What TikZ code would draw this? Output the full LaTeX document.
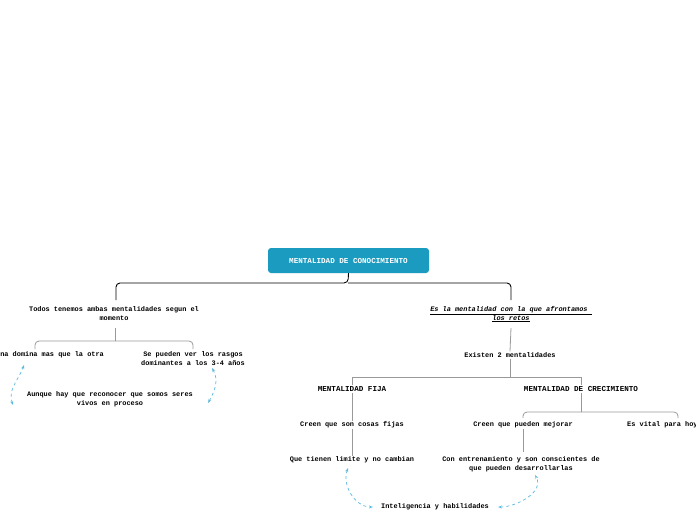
\documentclass[tikz,border=0pt]{standalone}
\usepackage{fontspec}
\setmonofont{Liberation Mono}
\usetikzlibrary{arrows.meta}
\definecolor{rootc}{HTML}{1A9BBF}
\definecolor{dashc}{HTML}{5BB8DE}
\tikzset{
 txt/.style={font=\ttfamily\bfseries\fontsize{6.9}{9}\selectfont,align=center,inner sep=1pt},
 big/.style={font=\ttfamily\bfseries\fontsize{7.6}{9}\selectfont,inner sep=1pt},
 blk/.style={draw=black,line width=0.9pt,rounded corners=4pt},
 gry/.style={draw=gray!80,line width=0.8pt,rounded corners=4pt},
 rel/.style={draw=dashc,dashed,line width=0.7pt,{Stealth[open,length=4pt]}-{Stealth[open,length=4pt]}}
}
\begin{document}
\begin{tikzpicture}[x=1pt,y=-1pt]
\useasboundingbox (0,0) rectangle (696,520);
\clip (0,0) rectangle (696,520);
\node[fill=rootc,rounded corners=3pt,minimum width=161pt,minimum height=25pt,text=white,font=\ttfamily\bfseries\fontsize{7.6}{9}\selectfont] (root) at (348.5,260.5) {MENTALIDAD DE CONOCIMIENTO};
\node[txt] (a) at (114,314) {Todos tenemos ambas mentalidades segun el\\momento};
\node[txt] (b) at (511,314) {\itshape\underline{Es la mentalidad con la que afrontamos\ }\\\itshape\underline{los retos}};
\draw[blk] (root.south) -- (348,283) -| (116,300);
\draw[blk] (348,283) -| (511,300);
\node[txt] (a1) at (50,355) {Una domina mas que la otra};
\node[txt] (a2) at (193,359) {Se pueden ver los rasgos\\dominantes a los 3-4 años};
\node[txt] (a3) at (110,399) {Aunque hay que reconocer que somos seres\\vivos en proceso};
\draw[gry] (115,328) -- (115,341);
\draw[gry] (115,341) -| (35,349);
\draw[gry] (115,341) -| (193,349);
\draw[rel] (13,405) to[out=110,in=-110] (24,365);
\draw[rel] (208,403) to[out=60,in=-60] (212,368);
\node[txt] (e) at (510,355) {Existen 2 mentalidades};
\draw[gry] (511,328) -- (e.north);
\node[big] (f) at (352,389) {MENTALIDAD FIJA};
\node[big] (g) at (581,389) {MENTALIDAD DE CRECIMIENTO};
\draw[gry,rounded corners=0pt] (e.south) -- (510,377) -| (f.north);
\draw[gry,rounded corners=0pt] (510,377) -| (g.north);
\node[txt] (f1) at (352,425) {Creen que son cosas fijas};
\node[txt] (f2) at (352,460) {Que tienen limite y no cambian};
\draw[gry] (f.south) -- (f1.north);
\draw[gry] (f1.south) -- (f2.north);
\node[txt] (g1) at (523,425) {Creen que pueden mejorar};
\node[txt,anchor=west] (g2) at (626,425) {Es vital para hoy en dia};
\draw[gry] (g.south) -- (581,412);
\draw[gry] (581,412) -| (523,418);
\draw[gry] (581,412) -| (678,418);
\node[txt] (g3) at (521,464) {Con entrenamiento y son conscientes de\\que pueden desarrollarlas};
\draw[gry] (g1.south) -- (523,452);
\node[txt] (h) at (435,507) {Inteligencia y habilidades};
\draw[rel] (348,468) to[out=-110,in=180] (373,507);
\draw[rel] (498,507) to[out=0,in=-60] (535,475);
\end{tikzpicture}
\end{document}
